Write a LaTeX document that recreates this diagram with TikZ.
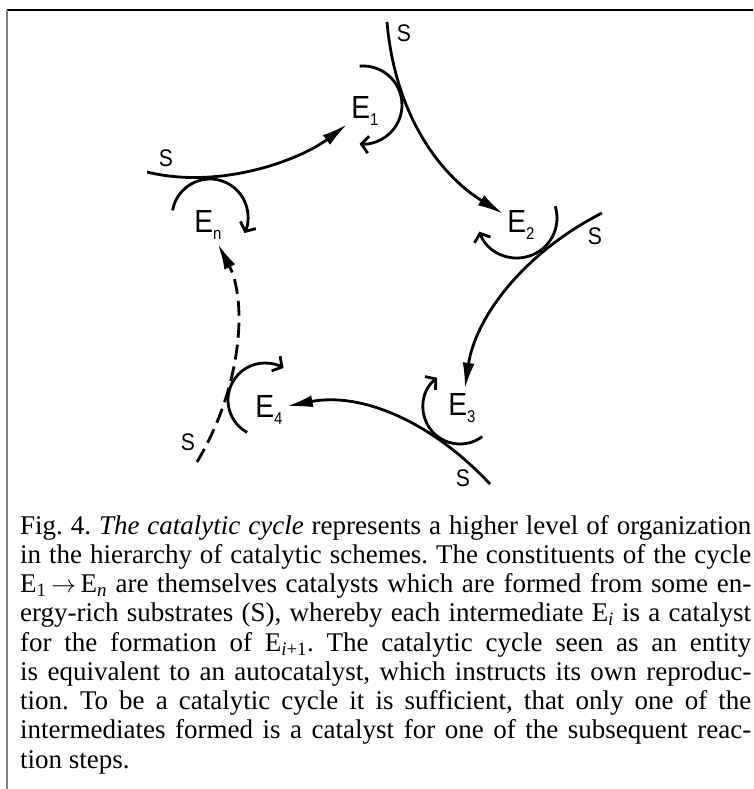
\documentclass[tikz,border=0pt]{standalone}
\usepackage{fontspec}
\setmainfont{Liberation Serif}
\newfontfamily\labelfont{Liberation Sans}[FakeStretch=0.88]
\usetikzlibrary{arrows.meta}

\newcommand{\Enz}[1]{E\raisebox{-0.45ex}{\fontsize{17}{17}\selectfont #1}}

\begin{document}
\begin{tikzpicture}[x=1pt,y=-1pt,
  enz/.style={font=\labelfont\fontsize{32}{32}\selectfont,inner sep=4pt,anchor=base},
  subst/.style={font=\labelfont\fontsize{24}{24}\selectfont,inner sep=0pt},
  flow/.style={line width=2.8pt,-{Latex[length=26pt,width=12pt]}},
  turn/.style={line width=2.8pt,-{Straight Barb[length=7pt,width=17pt]}},
  frame/.style={line width=1.6pt},
  caption/.style={anchor=north west,inner sep=0pt,text width=731pt,align=justify,
    font=\fontsize{27}{29.25}\selectfont}]
  \useasboundingbox (0,0) rectangle (753,789);
  % frame
  \draw[frame] (7,10) -- (753,10);
  \draw[frame,gray] (7,10) -- (7,789);
  % catalysts
  \node[enz] (e1) at (365,118) {\Enz{1}};
  \node[enz] (e2) at (521,232) {\Enz{2}};
  \node[enz] (e3) at (462,415) {\Enz{3}};
  \node[enz] (e4) at (269,417) {\Enz{4}};
  \node[enz] (en) at (208,232) {\Enz{n}};
  % substrates
  \node[subst] (s1) at (404,33) {S};
  \node[subst] (s2) at (595,236) {S};
  \node[subst] (s3) at (463,478) {S};
  \node[subst] (s4) at (188,442) {S};
  \node[subst] (sn) at (166,158) {S};
  \coordinate (a1) at (387,22);
  \coordinate (a2) at (602,213);
  \coordinate (a3) at (490,484);
  \coordinate (a4) at (197,462);
  \coordinate (an) at (147,172);
  % cycle
  \draw[flow] (a1) .. controls (395,115) and (440,175) .. (e2);
  \draw[flow] (a2) .. controls (520,255) and (475,320) .. (e3);
  \draw[flow] (a3) .. controls (430,420) and (360,392) .. (e4);
  \draw[flow,dash pattern=on 15pt off 7pt] (a4) .. controls (243,385) and (247,300) .. (en);
  \draw[flow] (an) .. controls (220,190) and (300,160) .. (e1);
  % catalytic turns
  \draw[turn] ([shift={(-2,-13)}]e1.base) ++(-95:39) arc[start angle=-95,end angle=95,radius=39];
  \draw[turn] ([shift={(-4,-14)}]e2.base) ++(-17:40) arc[start angle=-17,end angle=160,radius=40];
  \draw[turn] ([shift={(-2,-8)}]e3.base) ++(53:37) arc[start angle=53,end angle=232,radius=37];
  \draw[turn] ([shift={(-4,-17)}]e4.base) ++(119:37) arc[start angle=119,end angle=300,radius=37];
  \draw[turn] ([shift={(2,-15)}]en.base) ++(-170:38) arc[start angle=-170,end angle=25,radius=38];
  % caption
  \node[caption] (cap) at (20,515) {\frenchspacing\hyphenpenalty=10000 \tolerance=10000
    Fig.~4. \textit{The catalytic cycle} represents a higher level of organization\linebreak
    in the hierarchy of catalytic schemes. The constituents of the cycle\linebreak
    E\textsubscript{1}\,$\rightarrow$\,E\textsubscript{\itshape n} are themselves catalysts which are formed from some en-\linebreak
    ergy-rich substrates (S), whereby each intermediate E\textsubscript{\itshape i} is a catalyst\linebreak
    for the formation of E\textsubscript{\itshape i\/\upshape +1}. The catalytic cycle seen as an entity\linebreak
    is equivalent to an autocatalyst, which instructs its own reproduc-\linebreak
    tion. To be a catalytic cycle it is sufficient, that only one of the\linebreak
    intermediates formed is a catalyst for one of the subsequent reac-\linebreak
    tion steps.};
\end{tikzpicture}
\end{document}
